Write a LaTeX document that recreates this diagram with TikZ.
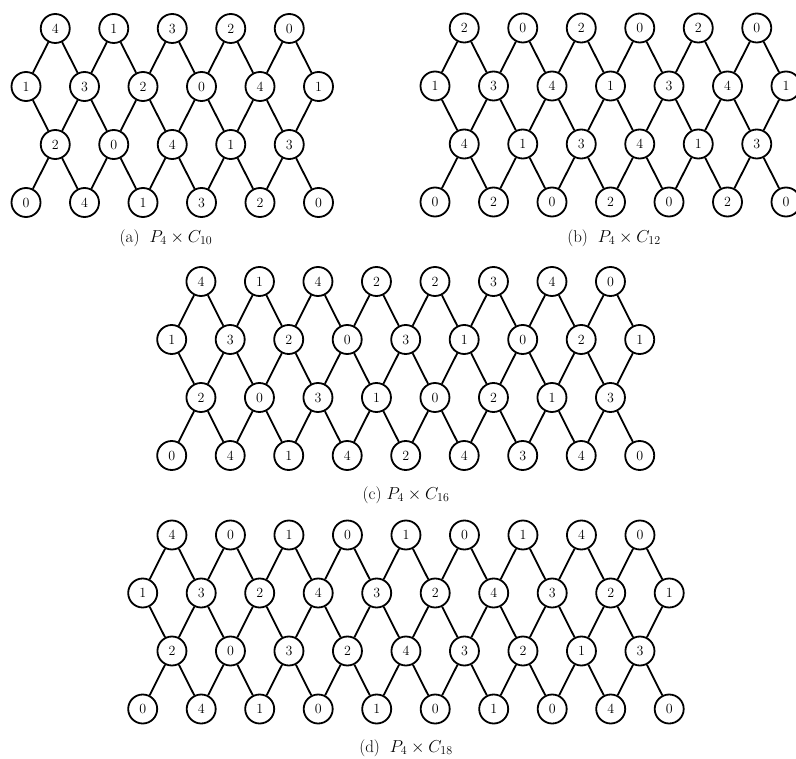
\documentclass[tikz,border=0pt]{standalone}
\usepackage{amsmath}
\tikzset{
  vtx/.style={circle, draw=black, line width=1.8pt, fill=white, minimum size=29pt,
              inner sep=0pt, font=\fontsize{14}{16}\selectfont},
  link/.style={line width=1.8pt, draw=black},
  subcap/.style={font=\fontsize{17}{20}\selectfont, inner sep=0pt},
}
% one panel: #1 name, #2 x of first node of rows 2/4, #3 y of top row,
% #4 nodes in rows 1/3, #5--#8 the labels of rows 1 to 4
\newcommand{\latticepanel}[8]{%
  \foreach \lab [count=\i] in {#5}
    \node[vtx] (#1-1-\i) at ({#2+29.25+58.5*(\i-1)}, {#3}) {\lab};
  \foreach \lab [count=\i] in {#6}
    \node[vtx] (#1-2-\i) at ({#2+58.5*(\i-1)}, {#3+58}) {\lab};
  \foreach \lab [count=\i] in {#7}
    \node[vtx] (#1-3-\i) at ({#2+29.25+58.5*(\i-1)}, {#3+116}) {\lab};
  \foreach \lab [count=\i] in {#8}
    \node[vtx] (#1-4-\i) at ({#2+58.5*(\i-1)}, {#3+174}) {\lab};
  \foreach \i [evaluate=\i as \j using int(\i+1)] in {1,...,#4} {
    \draw[link] (#1-1-\i) -- (#1-2-\i);  \draw[link] (#1-1-\i) -- (#1-2-\j);
    \draw[link] (#1-3-\i) -- (#1-2-\i);  \draw[link] (#1-3-\i) -- (#1-2-\j);
    \draw[link] (#1-3-\i) -- (#1-4-\i);  \draw[link] (#1-3-\i) -- (#1-4-\j);
  }%
}
\begin{document}
\begin{tikzpicture}[x=1pt, y=-1pt]
  \useasboundingbox (0,0) rectangle (796,759);
  % (a) P4 x C10
  \latticepanel{a}{26}{28.5}{5}{4,1,3,2,0}{1,3,2,0,4,1}{2,0,4,1,3}{0,4,1,3,2,0}
  \node[subcap] (capa) at (166,238) {(a)\hspace{10pt}$P_4\times C_{10}$};
  % (b) P4 x C12
  \latticepanel{b}{435}{28}{6}{2,0,2,0,2,0}{1,3,4,1,3,4,1}{4,1,3,4,1,3}{0,2,0,2,0,2,0}
  \node[subcap] (capb) at (614,238) {(b)\hspace{10pt}$P_4\times C_{12}$};
  % (c) P4 x C16
  \latticepanel{c}{171.7}{281.5}{8}{4,1,4,2,2,3,4,0}{1,3,2,0,3,1,0,2,1}{2,0,3,1,0,2,1,3}{0,4,1,4,2,4,3,4,0}
  \node[subcap] (capc) at (406,495) {(c) $P_4\times C_{16}$};
  % (d) P4 x C18
  \latticepanel{d}{142.7}{535}{9}{4,0,1,0,1,0,1,4,0}{1,3,2,4,3,2,4,3,2,1}{2,0,3,2,4,3,2,1,3}{0,4,1,0,1,0,1,0,4,0}
  \node[subcap] (capd) at (406,748) {(d)\hspace{10pt}$P_4\times C_{18}$};
\end{tikzpicture}
\end{document}
